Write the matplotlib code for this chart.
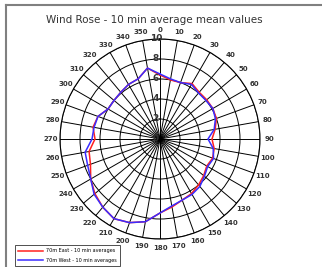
import numpy as np
import matplotlib
matplotlib.use("Agg")
import matplotlib.pyplot as plt
from matplotlib.lines import Line2D
from matplotlib.transforms import offset_copy

# wind direction (deg) and 10 min average mean speeds
directions = list(range(0, 360, 10))
east_70m = [6.4, 6.0, 6.0, 6.4, 6.1, 6.1, 6.1, 6.0, 5.6, 5.2,
            5.5, 5.6, 5.4, 5.7, 6.0, 6.3, 6.5, 6.9, 7.4, 8.4,
            8.9, 9.2, 8.9, 8.5, 8.0, 7.4, 7.2, 6.5, 6.8, 6.6,
            6.0, 6.0, 6.1, 6.3, 6.4, 7.2]
west_70m = [6.5, 6.1, 6.0, 6.3, 6.0, 6.0, 6.1, 5.9, 5.5, 4.8,
            5.4, 5.7, 5.5, 5.8, 6.2, 6.4, 6.5, 6.8, 7.4, 8.4,
            8.9, 9.2, 8.9, 8.6, 8.0, 7.7, 7.6, 6.8, 6.7, 6.6,
            6.0, 6.0, 6.1, 6.3, 6.4, 7.2]
r_ticks = [2, 4, 6, 8, 10]

fig = plt.figure(figsize=(3.22, 2.67), dpi=100)
fig.patch.set_facecolor("white")

# grey frame (top + left edge, rest is cut off)
fig.add_artist(Line2D([6/322, 1.0], [1-5/267, 1-5/267], color="#808080", lw=1.5))
fig.add_artist(Line2D([6/322, 6/322], [0, 1-5/267], color="#808080", lw=1.5))

ax = fig.add_axes([60/322, 28/267, 200/322, 200/267], projection="polar")
ax.set_theta_zero_location("N")
ax.set_theta_direction(-1)
ax.set_ylim(0, 10)

th = np.deg2rad(directions + [directions[0]])
ax.plot(th, east_70m + [east_70m[0]], color="#ff2020", lw=1.1, label="70m East - 10 min averages", zorder=3)
ax.plot(th, west_70m + [west_70m[0]], color="#3a2cff", lw=1.1, label="70m West - 10 min averages", zorder=4)

ax.set_thetagrids(directions, [str(d) for d in directions])
ax.tick_params(axis="x", labelsize=5, pad=-4, colors="#333333")
for t in ax.get_xticklabels():
    t.set_fontweight("bold")
ax.set_rgrids(r_ticks)
ax.set_yticklabels([])
ax.grid(True, color="black", lw=0.7)
ax.spines["polar"].set_color("black")
ax.spines["polar"].set_linewidth(0.8)

# radial value labels along the 0 deg line
tr = offset_copy(ax.transData, fig=fig, x=-3, y=0, units="points")
for r in [0] + r_ticks:
    ax.text(0, r, str(r), transform=tr, ha="center", va="center",
            fontsize=6.5, fontweight="bold", color="#333333", zorder=5)

fig.text(0.48, 1-20/267, "Wind Rose - 10 min average mean values",
         ha="center", va="center", fontsize=7.5, color="#333333")

leg = ax.legend(loc="upper left", bbox_to_anchor=(15/322, 22/267),
                bbox_transform=fig.transFigure, fontsize=3.5, frameon=True,
                fancybox=False, handlelength=5, handletextpad=0.6,
                borderpad=0.7, labelspacing=0.9, borderaxespad=0)
leg.get_frame().set_edgecolor("black")
leg.get_frame().set_linewidth(0.6)

fig.savefig("out.png", dpi=100)
